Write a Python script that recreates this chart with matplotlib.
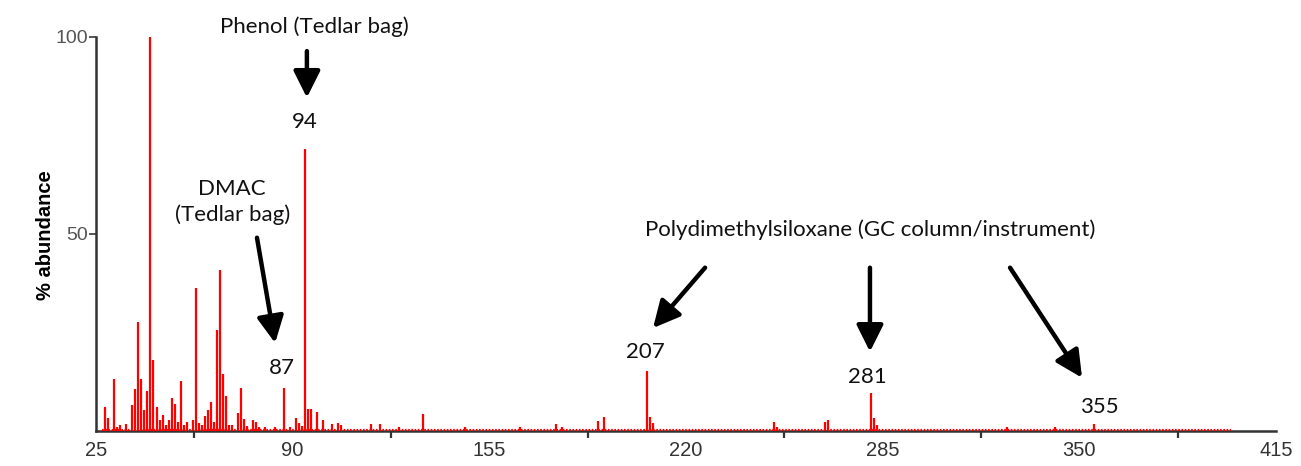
from __future__ import annotations

import matplotlib

matplotlib.use("Agg")
import matplotlib.pyplot as plt
from matplotlib.ticker import FixedLocator

# m/z values and relative abundance (%) of the resolved lines
MASSES = [
	28, 29, 31, 32, 33, 35, 37, 38, 39, 40, 41, 42, 43, 44, 45, 46, 47, 48, 49, 50,
	51, 52, 53, 54, 55, 57, 58, 59, 60, 61, 62, 63, 64, 65, 66, 67, 68, 69, 70, 72,
	73, 74, 75, 77, 78, 79, 81, 84, 87, 89, 91, 92, 93, 94, 95, 96, 98, 100, 103, 105,
	106, 116, 119, 125, 133, 147, 165, 177, 179, 191, 193, 207, 208, 209, 249, 250, 266, 267,
	281, 282, 283, 326, 342, 355,
]
ABUNDANCE = [
	6.2, 3.2, 13.1, 1.1, 1.5, 1.9, 6.6, 10.6, 27.6, 13.1, 5.3, 10.2, 100.0, 18.0, 6.2, 2.8, 4.1, 1.5, 2.8, 8.3,
	6.9, 2.4, 12.7, 1.5, 2.4, 2.8, 36.2, 2.0, 1.5, 3.7, 5.2, 7.3, 2.4, 25.6, 40.7, 14.5, 8.8, 1.5, 1.5, 4.5,
	11.0, 3.0, 1.2, 2.8, 2.2, 1.0, 1.0, 1.0, 11.0, 1.0, 3.4, 2.0, 1.2, 71.5, 5.5, 5.5, 4.8, 2.7, 1.7, 2.1,
	1.5, 1.7, 1.7, 1.0, 4.2, 1.0, 1.0, 1.7, 1.0, 2.6, 3.6, 15.2, 3.6, 2.0, 2.2, 1.0, 2.2, 2.8,
	9.7, 3.2, 1.5, 1.0, 1.0, 1.8,
]
# low-level noise present at every unit mass over the scanned range
NOISE_RANGE = (27, 400)

X_RANGE = (25, 415)
X_LABELS = [25, 90, 155, 220, 285, 350, 415]
X_MINOR = [57.5, 122.5, 187.5, 252.5, 317.5, 382.5]
Y_TICKS = [50, 100]

LABEL_FONT = ["Lato", "DejaVu Sans"]
TICK_FONT = ["Liberation Sans Narrow", "Liberation Sans", "DejaVu Sans"]


def draw_spectrum(ax) -> None:
	ax.plot(NOISE_RANGE, [0.35, 0.35], color="red", lw=1.6, linestyle=(0, (0.75, 0.7)),
			solid_capstyle="butt", zorder=3)
	ax.vlines(MASSES, 0, ABUNDANCE, color="red", lw=1.6, zorder=4)


def style_axes(ax) -> None:
	ax.set_xlim(*X_RANGE)
	ax.set_ylim(0, 100)
	for side in ("top", "right"):
		ax.spines[side].set_visible(False)
	for side in ("left", "bottom"):
		ax.spines[side].set_color("#333333")
		ax.spines[side].set_linewidth(1.8)

	ax.xaxis.set_major_locator(FixedLocator(X_LABELS))
	ax.xaxis.set_minor_locator(FixedLocator(X_MINOR))
	ax.set_xticklabels([str(v) for v in X_LABELS])
	ax.tick_params(axis="x", which="major", length=0, pad=7, labelsize=14.5, labelcolor="#333333")
	ax.tick_params(axis="x", which="minor", length=5, width=1.6, color="#333333", direction="out")

	ax.set_yticks(Y_TICKS)
	ax.set_yticklabels([str(v) for v in Y_TICKS])
	ax.tick_params(axis="y", length=5, width=1.4, color="#555555", pad=1, labelsize=14,
				   labelcolor="#555555")
	for label in ax.get_xticklabels():
		label.set_family(TICK_FONT)
	for label in ax.get_yticklabels():
		label.set_family(TICK_FONT)
		label.set_va("center_baseline")

	ax.set_ylabel("% abundance", fontsize=14.5, fontweight="bold",
				  family=["Liberation Sans", "DejaVu Sans"])
	ax.yaxis.set_label_coords(-0.043, 0.497)
	ax.yaxis.label.set_va("center")


def annotate_peaks(ax) -> None:
	arrow = dict(arrowstyle="-|>,head_length=0.9,head_width=0.45", lw=3.2, color="black",
				 shrinkA=0, shrinkB=0, mutation_scale=18)
	text_kw = dict(fontsize=16, family=LABEL_FONT, ha="center", va="center", color="#111111")

	# phenol from the sampling bag
	ax.text(97.2, 102.5, "Phenol (Tedlar bag)", clip_on=False, **text_kw)
	ax.annotate("", xy=(94.7, 84.5), xytext=(94.7, 96.3), arrowprops=arrow, annotation_clip=False)
	ax.text(94, 78.3, "94", **text_kw)

	# DMAC, also from the bag
	ax.text(70, 58.0, "DMAC\n(Tedlar bag)", linespacing=1.3, **text_kw)
	ax.annotate("", xy=(84.2, 22.3), xytext=(78.2, 49.0), arrowprops=arrow)
	ax.text(86.5, 16.0, "87", **text_kw)

	# siloxane bleed from the column
	ax.text(280.8, 51.0, "Polydimethylsiloxane (GC column/instrument)", **text_kw)
	ax.annotate("", xy=(209.1, 26.1), xytext=(226.3, 41.4), arrowprops=arrow)
	ax.annotate("", xy=(280.8, 20.1), xytext=(280.8, 41.4), arrowprops=arrow)
	ax.annotate("", xy=(350.9, 13.5), xytext=(327.1, 41.4), arrowprops=arrow)
	ax.text(206.5, 20.0, "207", **text_kw)
	ax.text(280, 13.8, "281", **text_kw)
	ax.text(356.5, 6.1, "355", **text_kw)


def main() -> None:
	fig = plt.figure(figsize=(13.01, 4.66), dpi=100)
	ax = fig.add_axes([96 / 1301, 35 / 466, 1180 / 1301, 394.5 / 466])
	draw_spectrum(ax)
	style_axes(ax)
	annotate_peaks(ax)
	fig.savefig("out.png", dpi=100)
	plt.close(fig)


if __name__ == "__main__":
	main()
